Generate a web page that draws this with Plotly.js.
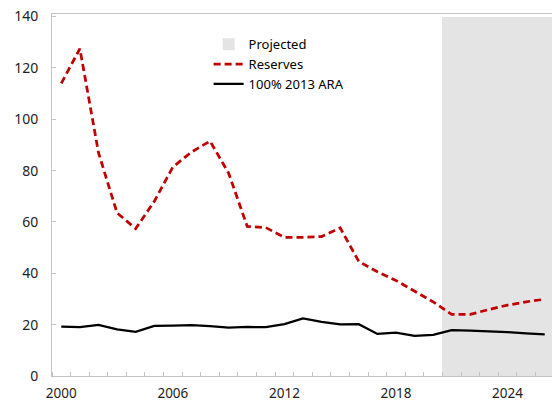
<!DOCTYPE html>
<html>
<head>
<meta charset="utf-8">
<script src="https://cdn.plot.ly/plotly-3.0.1.min.js"></script>
<style>html,body{margin:0;padding:0;background:#fff;overflow:hidden}</style>
</head>
<body>
<div id="chart"></div>
<script>
const years = [2000,2001,2002,2003,2004,2005,2006,2007,2008,2009,2010,2011,2012,2013,2014,2015,2016,2017,2018,2019,2020,2021,2022,2023,2024,2025,2026];
const reserves = [114,127.5,87,63.5,57.4,68,81.4,87.2,91.5,79,58.3,57.8,54,54,54.3,57.7,44.6,40.6,37.2,33,28.9,24,24,25.9,27.6,28.9,29.9];
const ara2013 = [19.2,19,19.9,18.2,17.2,19.5,19.6,19.8,19.4,18.8,19.1,19,20.2,22.4,21.1,20.1,20.2,16.4,16.9,15.6,16,17.9,17.7,17.5,17.1,16.6,16.2];
const projStart = 2021, projEnd = 2026, projTop = 140;
const xTickLabels = [2000,2006,2012,2018,2024];
const yTickVals = [0,20,40,60,80,100,120,140];

const axisGray = '#c4c4c4';
const font = {family: 'Noto Sans, Open Sans, sans-serif', size: 14, color: '#222'};

const traces = [
  {type:'bar', name:'Projected', x:[(projStart+projEnd)/2], y:[projTop], width:[projEnd-projStart+1],
   marker:{color:'#e4e4e4', line:{width:0}}, hoverinfo:'skip'},
  {type:'scatter', mode:'lines', name:'Reserves', x:years, y:reserves,
   line:{color:'#c00000', width:2.75, dash:'7px,4px'}},
  {type:'scatter', mode:'lines', name:'100% 2013 ARA', x:years, y:ara2013,
   line:{color:'#000000', width:2.25}}
];

const layout = {
  width:556, height:404,
  margin:{l:52, r:2, t:14, b:28},
  paper_bgcolor:'#fff', plot_bgcolor:'#fff',
  font: font,
  showlegend:true,
  legend:{x:0.312, xanchor:'left', y:0.958, yanchor:'top', bgcolor:'rgba(0,0,0,0)',
          font:{family:font.family, size:13, color:'#000'}, tracegroupgap:0},
  xaxis:{range:[1999.5, 2026.5], tickmode:'array', tickvals:xTickLabels, ticks:'', 
         showline:true, linecolor:axisGray, linewidth:1, mirror:true, showgrid:false, zeroline:false,
         ticklabelstandoff:5, tickfont:{family:font.family, size:13.5, color:'#222'},
         minor:{tick0:1999.5, dtick:1, ticks:'inside', ticklen:4, tickcolor:axisGray, tickwidth:1, showgrid:false}},
  yaxis:{range:[0,141], tickmode:'array', tickvals:yTickVals, ticks:'inside', ticklen:4, tickcolor:axisGray,
         showline:true, linecolor:axisGray, linewidth:1, showgrid:false, zeroline:false,
         ticklabelstandoff:10},
  bargap:0
};

Plotly.newPlot('chart', traces, layout, {displayModeBar:false, staticPlot:true});
</script>
</body>
</html>
